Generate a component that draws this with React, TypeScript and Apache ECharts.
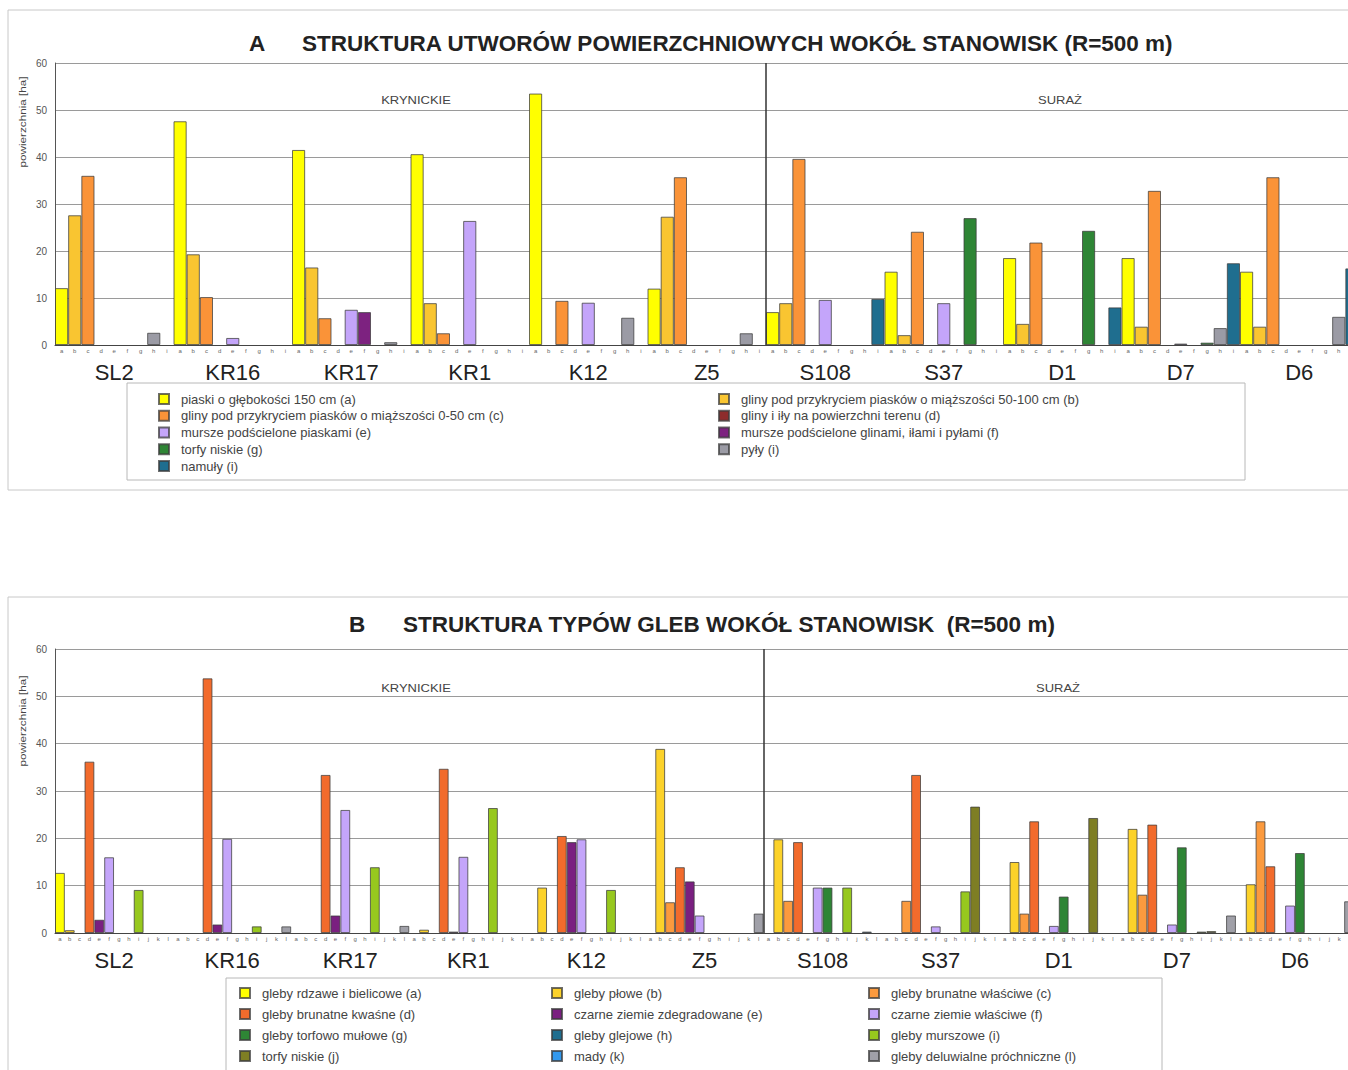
import { useEffect, useRef } from 'react';
import * as echarts from 'echarts';

// ---------- data ----------
const SITES = ['SL2', 'KR16', 'KR17', 'KR1', 'K12', 'Z5', 'S108', 'S37', 'D1', 'D7', 'D6'];
const LETTERS_A = ['a', 'b', 'c', 'd', 'e', 'f', 'g', 'h', 'i'];
const LETTERS_B = ['a', 'b', 'c', 'd', 'e', 'f', 'g', 'h', 'i', 'j', 'k', 'l'];
const Y_MIN = 0;
const Y_MAX = 60;
const Y_STEP = 10;

// Chart A – structure of surface deposits (ha)
const A_NAMES = [
  'piaski o głębokości 150 cm (a)',
  'gliny pod przykryciem piasków o miąższości 50-100 cm (b)',
  'gliny pod przykryciem piasków o miąższości 0-50 cm (c)',
  'gliny i iły na powierzchni terenu (d)',
  'mursze podścielone piaskami (e)',
  'mursze podścielone glinami, iłami i pyłami (f)',
  'torfy niskie (g)',
  'pyły (i)',
  'namuły (i)',
];
const A_COLORS = ['#FFFF00', '#F9C531', '#FA9338', '#8E2C2C', '#C4A5FA', '#7D2280', '#2E8535', '#9B9BA5', '#1F6E8F'];
const A_a = [12.1, 47.6, 41.5, 40.6, 53.5, 12.0, 7.0, 15.6, 18.5, 18.5, 15.6];
const A_b = [27.6, 19.3, 16.5, 8.9, 0, 27.3, 8.9, 2.1, 4.5, 3.9, 3.9];
const A_c = [36.0, 10.2, 5.7, 2.5, 9.4, 35.7, 39.6, 24.1, 21.8, 32.8, 35.7];
const A_d = [0, 0, 0, 0, 0, 0, 0, 0, 0, 0, 0];
const A_e = [0, 1.5, 7.5, 26.4, 9.0, 0, 9.6, 8.9, 0, 0.3, 0];
const A_f = [0, 0, 7.0, 0, 0, 0, 0, 0, 0, 0, 0];
const A_g = [0, 0, 0, 0, 0, 0, 0, 27.0, 24.3, 0.5, 0];
const A_h = [2.6, 0, 0.6, 0, 5.8, 2.5, 0, 0, 0, 3.6, 6.0];
const A_i = [0, 0, 0, 0, 0, 0, 9.8, 0, 8.0, 17.4, 16.3];
const A_VALUES = [A_a, A_b, A_c, A_d, A_e, A_f, A_g, A_h, A_i];

// Chart B – structure of soil types (ha)
const B_NAMES = [
  'gleby rdzawe i bielicowe (a)',
  'gleby płowe (b)',
  'gleby brunatne właściwe (c)',
  'gleby brunatne kwaśne (d)',
  'czarne ziemie zdegradowane (e)',
  'czarne ziemie właściwe (f)',
  'gleby torfowo mułowe (g)',
  'gleby glejowe (h)',
  'gleby murszowe (i)',
  'torfy niskie (j)',
  'mady (k)',
  'gleby deluwialne próchniczne (l)',
];
const B_COLORS = ['#FFFF00', '#FCD22A', '#FB9A3E', '#F26B2C', '#7A1F80', '#C4A5FA', '#2E8535', '#1F6E8F', '#97C81E', '#7E7E24', '#3399EE', '#A0A0A8'];
const B_a = [12.7, 0, 0, 0, 0, 0, 0, 0, 0, 0, 0];
const B_b = [0.6, 0, 0, 0.7, 9.6, 38.9, 19.8, 0, 15.0, 22.0, 10.3];
const B_c = [0, 0, 0, 0, 0, 6.5, 6.8, 6.8, 4.1, 8.1, 23.6];
const B_d = [36.2, 53.8, 33.4, 34.7, 20.5, 13.9, 19.2, 33.4, 23.6, 22.9, 14.1];
const B_e = [2.8, 1.8, 3.7, 0.3, 19.2, 10.9, 0, 0, 0, 0, 0];
const B_f = [16.0, 19.9, 26.0, 16.1, 19.8, 3.7, 9.6, 1.4, 1.5, 1.8, 5.8];
const B_g = [0, 0, 0, 0, 0, 0, 9.6, 0, 7.7, 18.1, 16.9];
const B_h = [0, 0, 0, 0, 0, 0, 0, 0, 0, 0, 0];
const B_i = [9.1, 1.4, 13.9, 26.4, 9.1, 0, 9.6, 8.8, 0, 0.3, 0];
const B_j = [0, 0, 0, 0, 0, 0, 0, 26.7, 24.3, 0.4, 0];
const B_k = [0, 0, 0, 0, 0, 0, 0.3, 0, 0, 0, 0];
const B_l = [0, 1.4, 1.5, 0, 0, 4.1, 0, 0, 0, 3.7, 6.7];
const B_VALUES = [B_a, B_b, B_c, B_d, B_e, B_f, B_g, B_h, B_i, B_j, B_k, B_l];

const TITLE_A = 'STRUKTURA UTWORÓW POWIERZCHNIOWYCH WOKÓŁ STANOWISK (R=500 m)';
const TITLE_B = 'STRUKTURA TYPÓW GLEB WOKÓŁ STANOWISK  (R=500 m)';
const Y_NAME = 'powierzchnia [ha]';
const SPLIT_INDEX = 6; // boundary before the first SURAŻ site (S108)

// ---------- styles ----------
const FONT = '"Liberation Sans", Arial, sans-serif';
const BAR_BORDER = 'rgba(60,60,60,0.75)';

function barSeries(names: string[], colors: string[], values: number[][], xi: number, yi: number) {
  return names.map((name, k) => ({
    name,
    type: 'bar',
    xAxisIndex: xi,
    yAxisIndex: yi,
    barGap: '0%',
    barCategoryGap: '0%',
    itemStyle: { color: colors[k], borderColor: BAR_BORDER, borderWidth: 1 },
    data: values[k].map((v) => (v > 0 ? v : null)),
  }));
}

function separatorSeries(xi: number, yi: number) {
  return {
    name: 'separator',
    type: 'line',
    xAxisIndex: xi,
    yAxisIndex: yi,
    data: [],
    silent: true,
    markLine: {
      silent: true,
      symbol: 'none',
      label: { show: false },
      lineStyle: { color: '#333', width: 1.5, type: 'solid' },
      data: [{ xAxis: SPLIT_INDEX }],
    },
  };
}

function siteAxis(gridIndex: number) {
  return {
    type: 'category',
    gridIndex,
    position: 'bottom',
    data: SITES,
    axisLine: { show: false },
    axisTick: { show: false },
    axisLabel: { fontSize: 22, color: '#222', margin: 16, fontFamily: FONT },
    splitLine: { show: false },
  };
}

function letterAxis(gridIndex: number, letters: string[]) {
  const all = SITES.flatMap(() => letters);
  return {
    type: 'category',
    gridIndex,
    position: 'bottom',
    data: all,
    axisLine: { show: true, lineStyle: { color: '#444', width: 1 } },
    axisTick: { show: false },
    axisLabel: {
      interval: (i: number) => i < all.length - 1,
      fontSize: 6,
      color: '#666',
      margin: 3,
      fontFamily: FONT,
    },
    splitLine: { show: false },
  };
}

function hiddenValueAxis(gridIndex: number) {
  return { type: 'value', gridIndex, min: 0, max: SITES.length, show: false };
}

function valueAxis(gridIndex: number) {
  return {
    type: 'value',
    gridIndex,
    min: Y_MIN,
    max: Y_MAX,
    interval: Y_STEP,
    axisLine: { show: true, lineStyle: { color: '#555' } },
    axisTick: { show: false },
    axisLabel: { fontSize: 10, color: '#555', margin: 8, fontFamily: FONT },
    splitLine: { show: true, lineStyle: { color: '#9a9a9a', width: 1 } },
  };
}

function legend(names: string[], left: number, top: number, fontSize: number, gap: number) {
  return {
    orient: 'vertical',
    left,
    top,
    padding: 0,
    itemWidth: 10,
    itemHeight: 10,
    itemGap: gap,
    icon: 'rect',
    selectedMode: false,
    data: names,
    textStyle: { fontSize, color: '#444', lineHeight: 13, fontFamily: FONT, padding: [0, 0, 0, 7] },
  };
}

function txt(text: string, x: number, y: number, size: number, opts: any = {}) {
  return {
    type: 'text',
    x,
    y,
    silent: true,
    rotation: opts.rotation || 0,
    scaleX: opts.scaleX || 1,
    style: {
      text,
      fill: opts.fill || '#333',
      fontSize: size,
      fontWeight: opts.bold ? 'bold' : 'normal',
      fontFamily: FONT,
      align: opts.align || 'center',
      verticalAlign: 'middle',
    },
  };
}

function frame(x: number, y: number, w: number, h: number, stroke: string) {
  return {
    type: 'rect',
    silent: true,
    z: -1,
    shape: { x, y, width: w, height: h },
    style: { fill: 'rgba(0,0,0,0)', stroke, lineWidth: 1 },
  };
}

export default function App() {
  const ref = useRef<HTMLDivElement>(null);
  useEffect(() => {
    const chart = echarts.init(ref.current!, null, { renderer: 'svg' });
    const option = {
      animation: false,
      backgroundColor: '#ffffff',
      textStyle: { fontFamily: FONT },
      grid: [
        { left: 55, top: 63, width: 1303.5, height: 282 },
        { left: 55, top: 649, width: 1299, height: 284 },
      ],
      xAxis: [
        siteAxis(0),
        letterAxis(0, LETTERS_A),
        siteAxis(1),
        letterAxis(1, LETTERS_B),
        hiddenValueAxis(0),
        hiddenValueAxis(1),
      ],
      yAxis: [valueAxis(0), valueAxis(1)],
      legend: [
        legend([A_NAMES[0], A_NAMES[2], A_NAMES[4], A_NAMES[6], A_NAMES[8]], 158, 392.5, 13, 3.75),
        legend([A_NAMES[1], A_NAMES[3], A_NAMES[5], A_NAMES[7]], 718, 392.5, 13, 3.75),
        legend([B_NAMES[0], B_NAMES[3], B_NAMES[6], B_NAMES[9]], 239, 986.5, 13, 8),
        legend([B_NAMES[1], B_NAMES[4], B_NAMES[7], B_NAMES[10]], 551, 986.5, 13, 8),
        legend([B_NAMES[2], B_NAMES[5], B_NAMES[8], B_NAMES[11]], 868, 986.5, 13, 8),
      ],
      series: [
        ...barSeries(A_NAMES, A_COLORS, A_VALUES, 0, 0),
        ...barSeries(B_NAMES, B_COLORS, B_VALUES, 2, 1),
        separatorSeries(4, 0),
        separatorSeries(5, 1),
      ],
      graphic: [
        frame(8, 10, 1400, 480, '#c8c8c8'),
        frame(8, 597, 1400, 520, '#c8c8c8'),
        frame(127, 383, 1118, 97, '#b8b8b8'),
        frame(226, 978, 936, 120, '#b8b8b8'),
        txt('A', 249, 43, 22.5, { bold: true, align: 'left', fill: '#222' }),
        txt(TITLE_A, 302, 43, 22.5, { bold: true, align: 'left', fill: '#222' }),
        txt('B', 349, 624, 22.5, { bold: true, align: 'left', fill: '#222' }),
        txt(TITLE_B, 403, 624, 22.5, { bold: true, align: 'left', fill: '#222' }),
        txt('KRYNICKIE', 416, 101, 10, { scaleX: 1.3, fill: '#444' }),
        txt('SURAŻ', 1060, 101, 10, { scaleX: 1.3, fill: '#444' }),
        txt('KRYNICKIE', 416, 689, 10, { scaleX: 1.3, fill: '#444' }),
        txt('SURAŻ', 1058, 689, 10, { scaleX: 1.3, fill: '#444' }),
        txt(Y_NAME, 23, 122, 9, { rotation: Math.PI / 2, scaleX: 1.3, fill: '#444' }),
        txt(Y_NAME, 23, 721, 9, { rotation: Math.PI / 2, scaleX: 1.3, fill: '#444' }),
      ],
    };
    chart.setOption(option as any);
    return () => chart.dispose();
  }, []);
  return (
    <div
      style={{
        position: 'absolute',
        left: 0,
        top: 0,
        width: 1348,
        height: 1070,
        overflow: 'hidden',
        background: '#fff',
      }}
    >
      <div ref={ref} style={{ width: 1372, height: 1070 }} />
    </div>
  );
}
